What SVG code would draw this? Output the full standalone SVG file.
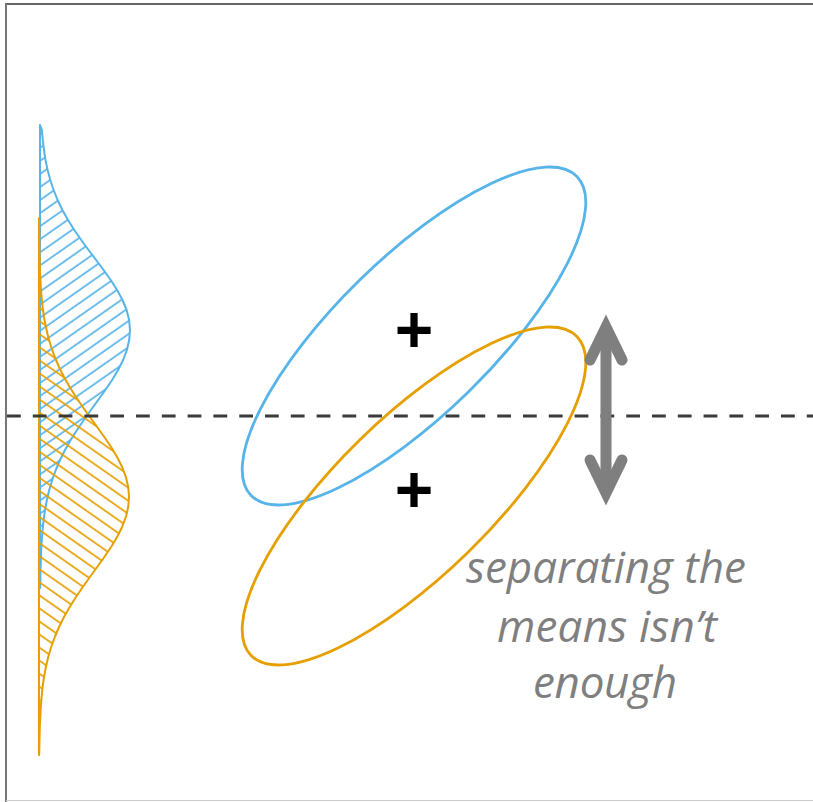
<svg xmlns="http://www.w3.org/2000/svg" width="813" height="802" viewBox="0 0 813 802">
<style>
.dist{stroke-width:2;stroke-linejoin:round}
.ell{fill:none;stroke-width:2.8}
.mean{font-family:"Liberation Sans",Arial,sans-serif;font-size:66px;font-weight:bold;fill:#000;text-anchor:middle}
.lbl{font-family:"Open Sans","Noto Sans",sans-serif;font-style:italic;font-size:44px;fill:#7f7f7f;text-anchor:middle}
.arr{fill:none;stroke:#7f7f7f;stroke-width:11;stroke-linecap:round;stroke-linejoin:miter}
</style>
<defs>
<pattern id="hatchBlue" width="10.7" height="10.7" patternUnits="userSpaceOnUse" patternTransform="rotate(-35)">
<line x1="-1" y1="5" x2="11.7" y2="5" stroke="#56B4E9" stroke-width="1.7"/>
</pattern>
<pattern id="hatchOrange" width="10.7" height="10.7" patternUnits="userSpaceOnUse" patternTransform="rotate(35)">
<line x1="-1" y1="5" x2="11.7" y2="5" stroke="#E69F00" stroke-width="1.7"/>
</pattern>
</defs>
<rect width="813" height="802" fill="#fff"/>
<g id="frame">
<line x1="5" y1="4" x2="813" y2="4" stroke="#666" stroke-width="2"/>
<line x1="6" y1="3" x2="6" y2="802" stroke="#777" stroke-width="2"/>
<line x1="6" y1="800.5" x2="813" y2="800.5" stroke="#ccc" stroke-width="1"/>
</g>
<g id="blue-distribution">
<path class="dist" fill="url(#hatchBlue)" stroke="#56B4E9" d="M40,125 L41.9,130 L42.8,140 L44,150 L45.5,160 L47.6,170 L50.3,180 L53.6,190 L57.6,200 L62.4,210 L68,220 L74.3,230 L81.2,240 L88.5,250 L96.1,260 L103.6,270 L110.7,280 L117.1,290 L122.5,300 L126.6,310 L129.1,320 L130,330 L129.2,340 L126.9,350 L123.1,360 L118.1,370 L112.1,380 L105.3,390 L98.2,400 L90.9,410 L83.8,420 L77,430 L70.7,440 L65,450 L60,460 L55.8,470 L52.2,480 L49.2,490 L46.9,500 L45,510 L43.6,520 L42.6,530 L41.8,540 L41.2,550 L40.5,570 L40.2,588 L40,588 Z"/>
</g>
<g id="orange-distribution">
<path class="dist" fill="url(#hatchOrange)" stroke="#E69F00" d="M39,218 L39.1,227 L39.35,247 L39.8,267 L40.8,287 L41.6,297 L42.6,307 L44,317 L45.9,327 L48.2,337 L51.2,347 L54.8,357 L59,367 L64,377 L69.7,387 L76,397 L82.8,407 L89.9,417 L97.2,427 L104.3,437 L111.1,447 L117.1,457 L122.1,467 L125.9,477 L128.2,487 L129,497 L128.2,507 L125.9,517 L122.1,527 L117.1,537 L111.1,547 L104.3,557 L97.2,567 L89.9,577 L82.8,587 L76,597 L69.7,607 L64,617 L59,627 L54.8,637 L51.2,647 L48.2,657 L45.9,667 L44,677 L42.6,687 L41.6,697 L40.8,707 L39.8,727 L39.35,747 L39.2,755 L39,755 Z"/>
</g>
<g id="threshold">
<line x1="7" y1="416" x2="813" y2="416" stroke="#3a3a3a" stroke-width="2.8" stroke-dasharray="13.8 12"/>
</g>
<g id="blue-ellipse">
<ellipse class="ell" stroke="#56B4E9" cx="414" cy="336" rx="228" ry="78" transform="rotate(-44.4 414 336)"/>
<text class="mean" x="414" y="352">+</text>
</g>
<g id="orange-ellipse">
<ellipse class="ell" stroke="#E69F00" cx="414" cy="496" rx="228" ry="78" transform="rotate(-44.4 414 496)"/>
<text class="mean" x="414" y="512">+</text>
</g>
<g id="arrow">
<line class="arr" x1="606" y1="335" x2="606" y2="485" stroke-linecap="butt"/>
<polyline class="arr" points="590,360 606,327 622,360"/>
<polyline class="arr" points="590,460 606,493 622,460"/>
</g>
<g id="label">
<text class="lbl" x="606" y="583" textLength="280">separating the</text>
<text class="lbl" x="607" y="642" textLength="220">means isn’t</text>
<text class="lbl" x="605" y="698" textLength="144">enough</text>
</g>
</svg>
